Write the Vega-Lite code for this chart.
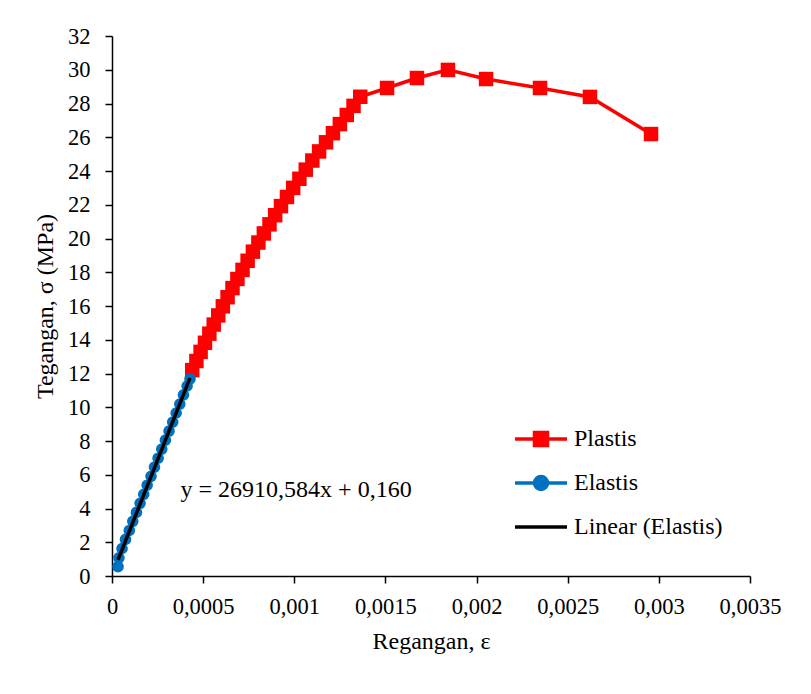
{
  "$schema": "https://vega.github.io/schema/vega-lite/v6.json",
  "width": 638,
  "height": 540,
  "autosize": {"type": "none"},
  "padding": {"left": 112, "top": 36, "right": 61, "bottom": 118},
  "background": "white",
  "config": {
    "view": {"stroke": null},
    "font": "Liberation Serif",
    "axis": {
      "domainColor": "black", "domainWidth": 1.5,
      "tickColor": "black", "tickWidth": 1.5, "tickSize": 7,
      "labelFont": "Liberation Serif", "labelFontSize": 22.5, "labelColor": "black",
      "labelOverlap": false, "labelFlush": false,
      "titleFont": "Liberation Serif", "titleFontSize": 24, "titleFontWeight": "normal", "titleColor": "black",
      "grid": false
    }
  },
  "datasets": {
    "curve": [
      {"series": "Elastis", "eps": 0.000033, "sigma": 0.55},
      {"series": "Elastis", "eps": 0.000038, "sigma": 1.08},
      {"series": "Elastis", "eps": 0.000055, "sigma": 1.63},
      {"series": "Elastis", "eps": 0.000074, "sigma": 2.17},
      {"series": "Elastis", "eps": 0.000095, "sigma": 2.70},
      {"series": "Elastis", "eps": 0.000114, "sigma": 3.24},
      {"series": "Elastis", "eps": 0.000134, "sigma": 3.77},
      {"series": "Elastis", "eps": 0.000154, "sigma": 4.31},
      {"series": "Elastis", "eps": 0.000174, "sigma": 4.84},
      {"series": "Elastis", "eps": 0.000193, "sigma": 5.38},
      {"series": "Elastis", "eps": 0.000214, "sigma": 5.91},
      {"series": "Elastis", "eps": 0.000233, "sigma": 6.45},
      {"series": "Elastis", "eps": 0.000253, "sigma": 6.98},
      {"series": "Elastis", "eps": 0.000273, "sigma": 7.52},
      {"series": "Elastis", "eps": 0.000293, "sigma": 8.05},
      {"series": "Elastis", "eps": 0.000313, "sigma": 8.59},
      {"series": "Elastis", "eps": 0.000333, "sigma": 9.12},
      {"series": "Elastis", "eps": 0.000352, "sigma": 9.66},
      {"series": "Elastis", "eps": 0.000372, "sigma": 10.19},
      {"series": "Elastis", "eps": 0.000392, "sigma": 10.73},
      {"series": "Elastis", "eps": 0.000412, "sigma": 11.26},
      {"series": "Elastis", "eps": 0.000428, "sigma": 11.68},
      {"series": "Plastis", "eps": 0.000440, "sigma": 12.20},
      {"series": "Plastis", "eps": 0.000463, "sigma": 12.74},
      {"series": "Plastis", "eps": 0.000486, "sigma": 13.28},
      {"series": "Plastis", "eps": 0.000510, "sigma": 13.82},
      {"series": "Plastis", "eps": 0.000534, "sigma": 14.36},
      {"series": "Plastis", "eps": 0.000558, "sigma": 14.90},
      {"series": "Plastis", "eps": 0.000583, "sigma": 15.44},
      {"series": "Plastis", "eps": 0.000608, "sigma": 15.98},
      {"series": "Plastis", "eps": 0.000634, "sigma": 16.52},
      {"series": "Plastis", "eps": 0.000661, "sigma": 17.06},
      {"series": "Plastis", "eps": 0.000688, "sigma": 17.60},
      {"series": "Plastis", "eps": 0.000716, "sigma": 18.14},
      {"series": "Plastis", "eps": 0.000744, "sigma": 18.68},
      {"series": "Plastis", "eps": 0.000773, "sigma": 19.22},
      {"series": "Plastis", "eps": 0.000803, "sigma": 19.76},
      {"series": "Plastis", "eps": 0.000833, "sigma": 20.30},
      {"series": "Plastis", "eps": 0.000864, "sigma": 20.84},
      {"series": "Plastis", "eps": 0.000895, "sigma": 21.38},
      {"series": "Plastis", "eps": 0.000927, "sigma": 21.92},
      {"series": "Plastis", "eps": 0.000960, "sigma": 22.46},
      {"series": "Plastis", "eps": 0.000994, "sigma": 23.00},
      {"series": "Plastis", "eps": 0.001028, "sigma": 23.54},
      {"series": "Plastis", "eps": 0.001063, "sigma": 24.08},
      {"series": "Plastis", "eps": 0.001099, "sigma": 24.62},
      {"series": "Plastis", "eps": 0.001136, "sigma": 25.16},
      {"series": "Plastis", "eps": 0.001174, "sigma": 25.70},
      {"series": "Plastis", "eps": 0.001212, "sigma": 26.24},
      {"series": "Plastis", "eps": 0.001250, "sigma": 26.78},
      {"series": "Plastis", "eps": 0.001288, "sigma": 27.32},
      {"series": "Plastis", "eps": 0.001325, "sigma": 27.86},
      {"series": "Plastis", "eps": 0.001362, "sigma": 28.40},
      {"series": "Plastis", "eps": 0.001509, "sigma": 28.92},
      {"series": "Plastis", "eps": 0.001673, "sigma": 29.51},
      {"series": "Plastis", "eps": 0.001843, "sigma": 29.99},
      {"series": "Plastis", "eps": 0.002052, "sigma": 29.45},
      {"series": "Plastis", "eps": 0.002348, "sigma": 28.92},
      {"series": "Plastis", "eps": 0.002622, "sigma": 28.39},
      {"series": "Plastis", "eps": 0.002957, "sigma": 26.19}
    ],
    "note": [
      {"eps": 0.00101, "sigma": 5.1, "label": "y = 26910,584x + 0,160"}
    ]
  },
  "layer": [
    {
      "data": {"name": "curve"},
      "mark": {"type": "line", "strokeWidth": 3.5},
      "encoding": {
        "x": {
          "field": "eps", "type": "quantitative",
          "scale": {"domain": [0, 0.0035], "nice": false, "zero": true},
          "axis": {
            "title": "Regangan, ε",
            "values": [0, 0.0005, 0.001, 0.0015, 0.002, 0.0025, 0.003, 0.0035],
            "tickCount": 8,
            "format": "~f",
            "labelExpr": "replace(datum.label, '.', ',')",
            "labelOverlap": false, "labelFlush": false,
            "labelPadding": 12, "titlePadding": 12
          }
        },
        "y": {
          "field": "sigma", "type": "quantitative",
          "scale": {"domain": [0, 32], "nice": false},
          "axis": {
            "title": "Tegangan, σ (MPa)",
            "values": [0, 2, 4, 6, 8, 10, 12, 14, 16, 18, 20, 22, 24, 26, 28, 30, 32],
            "tickCount": 17,
            "labelOverlap": false, "labelFlush": false, "labelBound": false,
            "labelPadding": 15, "titlePadding": 10
          }
        },
        "color": {
          "field": "series", "type": "nominal",
          "scale": {"domain": ["Plastis", "Elastis", "Linear (Elastis)"], "range": ["#FF0000", "#0070C0", "#000000"]},
          "legend": {
            "orient": "none", "legendX": 401, "legendY": 375, "title": null, "padding": 0,
            "symbolSize": 2704, "symbolStrokeWidth": 3.5, "symbolType": "stroke",
            "labelFont": "Liberation Serif", "labelFontSize": 24, "labelColor": "black",
            "labelOffset": 5, "rowPadding": 2,
            "encode": {
              "symbols": {
                "update": {
                  "shape": {"signal": "datum.value === 'Plastis' ? 'M-1,0H1M-0.25,-0.25H0.25V0.25H-0.25Z' : datum.value === 'Elastis' ? 'M-1,0H1M0.25,0A0.25,0.25 0 1,1 -0.25,0A0.25,0.25 0 1,1 0.25,0Z' : 'M-1,0H1'"},
                  "fill": {"signal": "scale('color', datum.value)"},
                  "stroke": {"signal": "scale('color', datum.value)"},
                  "strokeWidth": {"value": 3.5},
                  "opacity": {"value": 1}
                }
              }
            }
          }
        }
      }
    },
    {
      "data": {"name": "curve"},
      "transform": [{"filter": "datum.series === 'Plastis'"}],
      "mark": {"type": "point", "shape": "square", "filled": true, "size": 210, "color": "#FF0000", "opacity": 1},
      "encoding": {
        "x": {"field": "eps", "type": "quantitative"},
        "y": {"field": "sigma", "type": "quantitative"}
      }
    },
    {
      "data": {"name": "curve"},
      "transform": [{"filter": "datum.series === 'Elastis'"}],
      "mark": {"type": "point", "shape": "circle", "filled": true, "size": 135, "color": "#0070C0", "opacity": 1},
      "encoding": {
        "x": {"field": "eps", "type": "quantitative"},
        "y": {"field": "sigma", "type": "quantitative"}
      }
    },
    {
      "data": {"name": "curve"},
      "transform": [
        {"filter": "datum.series === 'Elastis'"},
        {"regression": "sigma", "on": "eps"}
      ],
      "mark": {"type": "line", "color": "black", "strokeWidth": 3.5},
      "encoding": {
        "x": {"field": "eps", "type": "quantitative"},
        "y": {"field": "sigma", "type": "quantitative"}
      }
    },
    {
      "data": {"name": "note"},
      "mark": {"type": "text", "font": "Liberation Serif", "fontSize": 24, "color": "black", "align": "center", "baseline": "middle"},
      "encoding": {
        "x": {"field": "eps", "type": "quantitative"},
        "y": {"field": "sigma", "type": "quantitative"},
        "text": {"field": "label"}
      }
    }
  ]
}
